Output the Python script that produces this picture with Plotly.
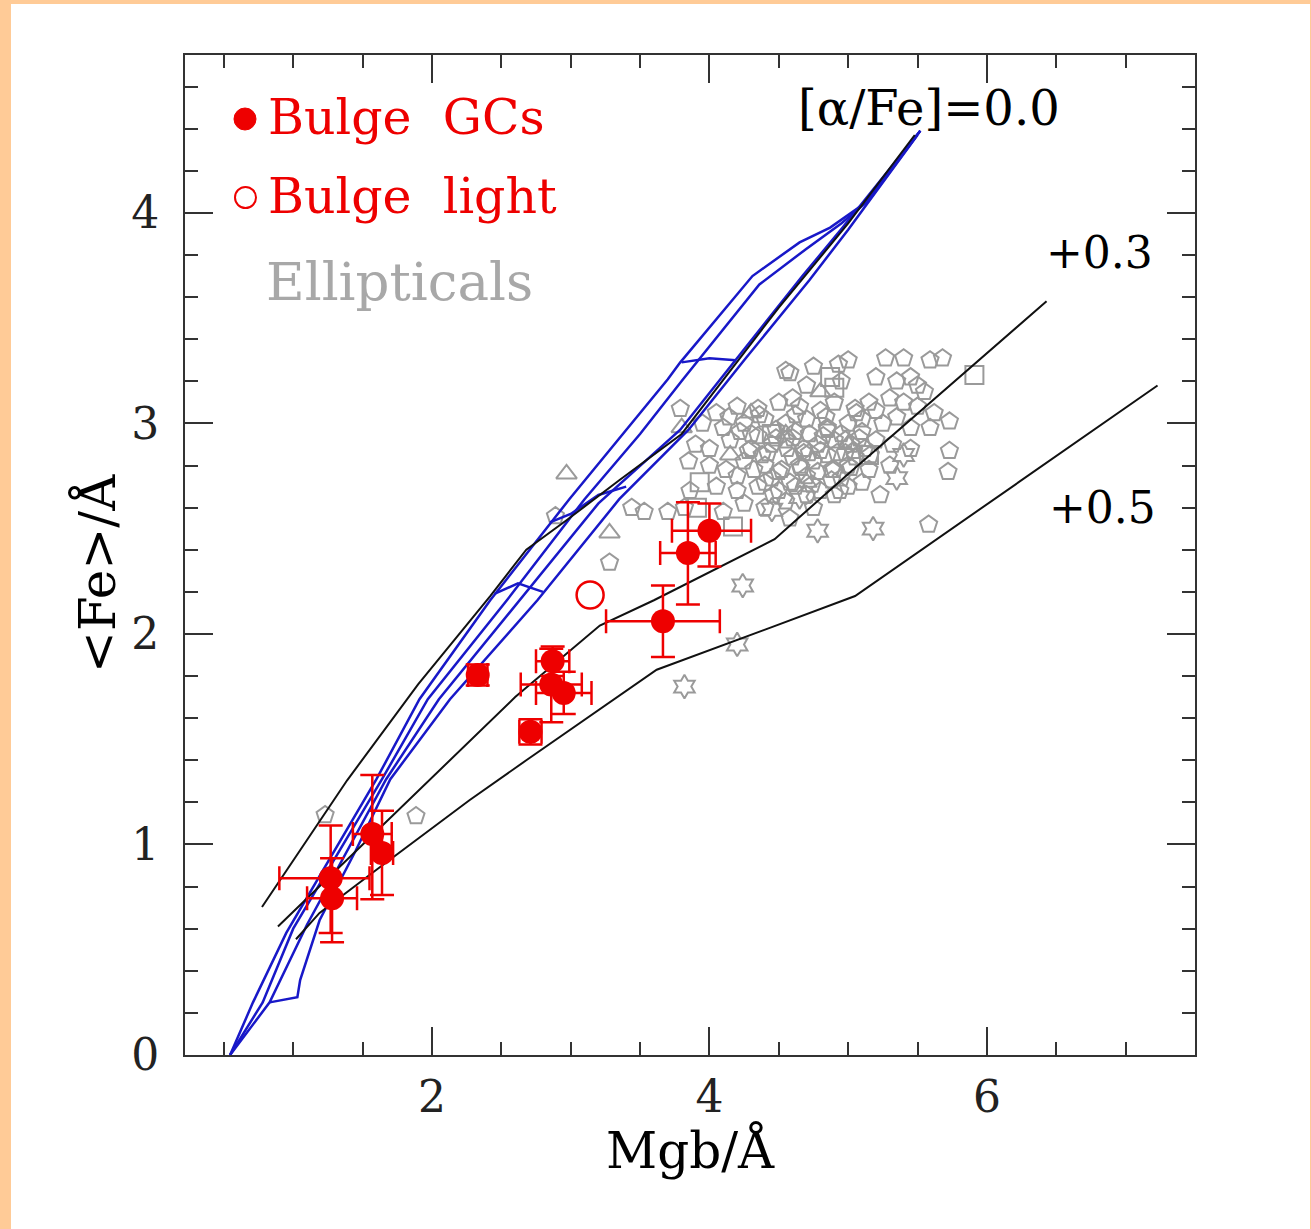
import plotly.graph_objects as go

# ---------------- data ----------------
# [alpha/Fe] model lines (black)
afe00_x = [0.775, 1.39, 1.9, 2.42, 2.68, 2.97, 3.35, 3.8, 4.5, 5.0, 5.48]
afe00_y = [0.703, 1.306, 1.76, 2.18, 2.40, 2.54, 2.73, 2.95, 3.55, 3.95, 4.37]
afe03_x = [0.89, 1.5, 1.985, 2.6, 3.21, 3.6, 4.47, 5.0, 6.43]
afe03_y = [0.61, 1.0, 1.306, 1.70, 2.04, 2.16, 2.45, 2.76, 3.58]
afe05_x = [1.02, 1.19, 1.6, 2.27, 2.68, 3.62, 4.44, 5.05, 7.23]
afe05_y = [0.55, 0.675, 0.88, 1.21, 1.40, 1.83, 2.03, 2.18, 3.18]

# blue model grid: tracks
trk1_x = [0.545, 0.71, 0.95, 1.60, 1.91, 2.42, 2.99, 3.40, 3.70, 3.79, 4.31, 4.65, 4.87, 5.13, 5.52]
trk1_y = [0.0, 0.25, 0.58, 1.31, 1.69, 2.16, 2.64, 2.97, 3.21, 3.29, 3.70, 3.86, 3.93, 4.05, 4.39]
trk2_x = [0.545, 0.78, 1.0, 1.64, 1.97, 2.54, 3.10, 3.50, 3.81, 4.36, 4.70, 4.95, 5.15, 5.52]
trk2_y = [0.0, 0.25, 0.60, 1.31, 1.69, 2.16, 2.64, 2.95, 3.21, 3.66, 3.83, 3.95, 4.06, 4.39]
trk3_x = [0.545, 0.83, 1.10, 1.67, 2.05, 2.63, 3.20, 3.79, 4.19, 4.67, 4.96, 5.52]
trk3_y = [0.0, 0.25, 0.62, 1.31, 1.69, 2.16, 2.62, 2.97, 3.30, 3.70, 3.93, 4.39]
trk4_x = [0.83, 1.03, 1.05, 1.19, 1.45, 1.70, 2.13, 2.76, 3.35, 3.85, 4.25, 4.72, 5.00, 5.50]
trk4_y = [0.25, 0.275, 0.356, 0.64, 0.97, 1.31, 1.69, 2.16, 2.64, 2.97, 3.30, 3.68, 3.92, 4.37]
# blue model grid: connectors
con1_x = [2.45, 2.62, 2.80]
con1_y = [2.19, 2.24, 2.20]
con2_x = [2.85, 3.0, 3.2, 3.40]
con2_y = [2.53, 2.57, 2.66, 2.70]
con3_x = [3.80, 4.0, 4.19]
con3_y = [3.29, 3.31, 3.30]

# Bulge GCs
gc_x = [1.27, 1.28, 1.57, 1.64, 2.33, 2.71, 2.87, 2.86, 2.95, 3.665, 3.845, 4.0]
gc_y = [0.84, 0.745, 1.05, 0.96, 1.805, 1.535, 1.87, 1.76, 1.72, 2.06, 2.385, 2.49]
gc_xerr_plus = [0.28, 0.18, 0.14, 0.08, 0.07, 0.08, 0.12, 0.22, 0.2, 0.41, 0.2, 0.30]
gc_xerr_minus = [0.37, 0.18, 0.14, 0.08, 0.07, 0.08, 0.12, 0.22, 0.2, 0.41, 0.2, 0.27]
gc_yerr_plus = [0.25, 0.19, 0.28, 0.2, 0.05, 0.06, 0.07, 0.17, 0.1, 0.17, 0.24, 0.13]
gc_yerr_minus = [0.26, 0.21, 0.31, 0.2, 0.05, 0.06, 0.07, 0.18, 0.1, 0.17, 0.245, 0.17]

# Bulge integrated light
light_x = [3.14]
light_y = [2.185]

# Ellipticals
ell_pent_x = [1.23, 1.885, 2.89, 3.28, 3.44, 3.53, 3.70, 3.79, 3.82, 4.58, 5.58,
              4.55, 5.0, 5.27, 5.40, 5.59, 5.68, 4.75, 4.93,
              4.7, 4.95, 5.2, 5.35, 5.45, 5.5, 5.55, 4.6,
              4.2, 4.35, 4.5, 4.65, 4.8, 4.9, 5.05, 5.15, 5.3, 5.4, 5.5, 5.62, 4.05,
              3.95, 4.1, 4.25, 4.4, 4.55, 4.7, 4.85, 5.0, 5.1, 5.25, 5.35, 5.45, 5.59, 5.73, 4.3, 4.62, 4.95,
              3.9, 4.0, 4.15, 4.3, 4.45, 4.55, 4.68, 4.78, 4.9, 5.02, 5.12, 5.2, 5.32, 5.45, 5.73, 4.38, 4.6, 4.85, 5.05,
              3.85, 4.0, 4.12, 4.25, 4.4, 4.52, 4.65, 4.75, 4.88, 5.0, 5.15, 5.3, 5.72, 4.2, 4.45, 4.7, 4.95, 5.1,
              3.86, 4.05, 4.2, 4.35, 4.5, 4.62, 4.8, 4.9, 5.23, 4.25, 4.55, 4.75,
              4.1, 4.4, 4.58, 4.48, 4.82, 5.08, 4.72, 4.98,
              4.22, 4.35, 4.48, 4.6, 4.72, 4.85, 4.98, 5.1,
              4.28, 4.42, 4.56, 4.68, 4.8, 4.92, 5.04, 5.16,
              4.32, 4.5, 4.66, 4.78, 4.9, 5.02,
              4.4, 4.58, 4.74, 4.88, 5.0,
              4.14, 4.36, 4.62, 4.84, 5.06, 5.2,
              4.46, 4.7, 4.94]
ell_pent_y = [1.14, 1.135, 2.56, 2.34, 2.60, 2.58, 2.58, 3.07, 2.60, 3.24, 2.52,
              3.25, 3.30, 3.31, 3.31, 3.30, 3.31, 3.27, 3.28,
              3.18, 3.2, 3.22, 3.2, 3.22, 3.18, 3.15, 3.12,
              3.08, 3.07, 3.1, 3.08, 3.06, 3.1, 3.07, 3.1, 3.12, 3.1, 3.08, 3.05, 3.05,
              3.0, 2.98, 3.0, 3.02, 3.0, 3.02, 2.98, 3.0, 3.02, 3.0, 3.03, 2.98, 2.98, 3.01, 2.95, 2.96, 2.95,
              2.9, 2.88, 2.92, 2.88, 2.9, 2.92, 2.88, 2.9, 2.92, 2.9, 2.88, 2.92, 2.9, 2.88, 2.87, 2.85, 2.84, 2.85, 2.84,
              2.82, 2.8, 2.78, 2.82, 2.8, 2.78, 2.8, 2.82, 2.78, 2.8, 2.78, 2.8, 2.77, 2.75, 2.74, 2.75, 2.74, 2.72,
              2.68, 2.7, 2.68, 2.7, 2.68, 2.7, 2.68, 2.66, 2.66, 2.62, 2.63, 2.6,
              2.58, 2.6, 2.55, 2.93, 2.94, 2.93, 2.86, 2.86,
              2.96, 2.94, 2.97, 2.93, 2.95, 2.97, 2.92, 2.96,
              2.87, 2.86, 2.88, 2.86, 2.87, 2.86, 2.87, 2.85,
              2.78, 2.77, 2.79, 2.77, 2.78, 2.79,
              2.72, 2.72, 2.71, 2.73, 2.70,
              3.03, 3.04, 3.04, 3.03, 3.05, 3.06,
              2.66, 2.66, 2.68]
ell_sq_x = [5.91, 3.91, 4.17, 4.87, 4.90, 4.45, 5.15, 3.93]
ell_sq_y = [3.23, 2.60, 2.51, 3.22, 3.17, 2.95, 2.85, 2.72]
ell_tri_x = [2.97, 3.28, 3.80, 4.30, 4.55, 4.80, 5.00, 4.15, 4.70]
ell_tri_y = [2.76, 2.48, 2.98, 3.05, 2.95, 3.15, 2.90, 2.85, 2.72]
ell_star_x = [3.82, 4.20, 4.24, 4.78, 5.18, 5.35, 5.40, 4.45, 4.65]
ell_star_y = [1.75, 1.95, 2.23, 2.49, 2.50, 2.74, 2.85, 2.59, 2.65]

x_ticks = [2, 4, 6]
y_ticks = [0, 1, 2, 3, 4]

# ---------------- figure ----------------
SERIF = "DejaVu Serif"
BLUE = "#1818c8"
RED = "#ee0000"
GREY = "#9a9a9a"
AX = "#333333"

fig = go.Figure()

# grey ellipticals
for xs, ys, sym in [(ell_pent_x, ell_pent_y, "pentagon-open"),
                    (ell_sq_x, ell_sq_y, "square-open"),
                    (ell_tri_x, ell_tri_y, "triangle-up-open"),
                    (ell_star_x, ell_star_y, "hexagram-open")]:
    fig.add_trace(go.Scatter(x=xs, y=ys, mode="markers",
                             marker=dict(symbol=sym, size=18, color=GREY,
                                         line=dict(color=GREY, width=2)),
                             showlegend=False, hoverinfo="skip"))

# blue model grid
for xs, ys in [(trk1_x, trk1_y), (trk2_x, trk2_y), (trk3_x, trk3_y), (trk4_x, trk4_y),
               (con1_x, con1_y), (con2_x, con2_y), (con3_x, con3_y)]:
    fig.add_trace(go.Scatter(x=xs, y=ys, mode="lines",
                             line=dict(color=BLUE, width=2.5),
                             showlegend=False, hoverinfo="skip"))

# black alpha/Fe lines
for xs, ys in [(afe00_x, afe00_y), (afe03_x, afe03_y), (afe05_x, afe05_y)]:
    fig.add_trace(go.Scatter(x=xs, y=ys, mode="lines",
                             line=dict(color="#111111", width=2),
                             showlegend=False, hoverinfo="skip"))

# bulge light
fig.add_trace(go.Scatter(x=light_x, y=light_y, mode="markers",
                         marker=dict(symbol="circle-open", size=27, color=RED,
                                     line=dict(color=RED, width=2.5)),
                         showlegend=False, hoverinfo="skip"))

# bulge GCs
fig.add_trace(go.Scatter(
    x=gc_x, y=gc_y, mode="markers",
    marker=dict(symbol="circle", size=24, color=RED),
    error_x=dict(type="data", symmetric=False, array=gc_xerr_plus, arrayminus=gc_xerr_minus,
                 color=RED, thickness=2.5, width=12),
    error_y=dict(type="data", symmetric=False, array=gc_yerr_plus, arrayminus=gc_yerr_minus,
                 color=RED, thickness=2.5, width=12),
    showlegend=False, hoverinfo="skip"))

# ---------- layout ----------
W, H = 1311, 1229
L, R, T, B = 185, 116, 55, 174
PW, PH = W - L - R, H - T - B


def px2paper(px, py):
    return (px - L) / PW, (H - B - py) / PH


shapes = []
# orange page border + white panel
x0, y1 = px2paper(11, 4)
x1, y0 = px2paper(1310, 1260)
shapes.append(dict(type="rect", xref="paper", yref="paper", x0=x0, x1=x1, y0=y0, y1=y1,
                   fillcolor="white", line=dict(width=0), layer="below"))
# legend symbols
a0, b1 = px2paper(234, 108)
a1, b0 = px2paper(256, 130)
shapes.append(dict(type="circle", xref="paper", yref="paper", x0=a0, x1=a1, y0=b0, y1=b1,
                   fillcolor=RED, line=dict(color=RED, width=1)))
a0, b1 = px2paper(235, 187)
a1, b0 = px2paper(256, 208)
shapes.append(dict(type="circle", xref="paper", yref="paper", x0=a0, x1=a1, y0=b0, y1=b1,
                   fillcolor="rgba(0,0,0,0)", line=dict(color=RED, width=2)))

annotations = []


def ann_px(text, px, py, size, color="black", xanchor="left", angle=0):
    xp, yp = px2paper(px, py)
    annotations.append(dict(text=text, xref="paper", yref="paper", x=xp, y=yp,
                            xanchor=xanchor, yanchor="middle", showarrow=False,
                            textangle=angle,
                            font=dict(family=SERIF, size=size, color=color)))


ann_px("Bulge  GCs", 266, 118, 49, RED)
ann_px("Bulge  light", 266, 196, 49, RED)
ann_px("Ellipticals", 264, 281, 53, "#a8a8a8")
ann_px("Mgb/Å", 690, 1150, 50, "black", xanchor="center")
ann_px("&lt;Fe&gt;/Å", 97, 574, 50, "black", xanchor="center", angle=-90)

for txt, x, y, s in [("[α/Fe]=0.0", 5.58, 4.50, 48), ("+0.3", 6.81, 3.81, 44), ("+0.5", 6.83, 2.60, 44)]:
    annotations.append(dict(text=txt, x=x, y=y, xref="x", yref="y", showarrow=False,
                            xanchor="center", yanchor="middle",
                            font=dict(family=SERIF, size=s, color="black")))

axis_common = dict(showgrid=False, zeroline=False, showline=True, linecolor=AX, linewidth=2,
                   mirror="allticks", ticks="inside", ticklen=28, tickwidth=2, tickcolor=AX,
                   tickfont=dict(family=SERIF, size=44, color="#222222"))

fig.update_layout(
    width=W, height=H,
    margin=dict(l=L, r=R, t=T, b=B, pad=0),
    paper_bgcolor="#ffcb97",
    plot_bgcolor="white",
    showlegend=False,
    shapes=shapes,
    annotations=annotations,
    xaxis=dict(range=[0.22, 7.5], tickvals=x_ticks, ticklabelstandoff=2,
               minor=dict(dtick=0.5, tick0=0, ticks="inside", ticklen=13, tickwidth=2, tickcolor=AX),
               **axis_common),
    yaxis=dict(range=[0, 4.75], tickvals=y_ticks, ticklabelstandoff=15,
               minor=dict(dtick=0.2, tick0=0, ticks="inside", ticklen=13, tickwidth=2, tickcolor=AX),
               **axis_common),
)

fig.write_html("out.html",
               config={"displayModeBar": False},
               post_script="document.body.style.margin='0';document.body.style.overflow='hidden';")
